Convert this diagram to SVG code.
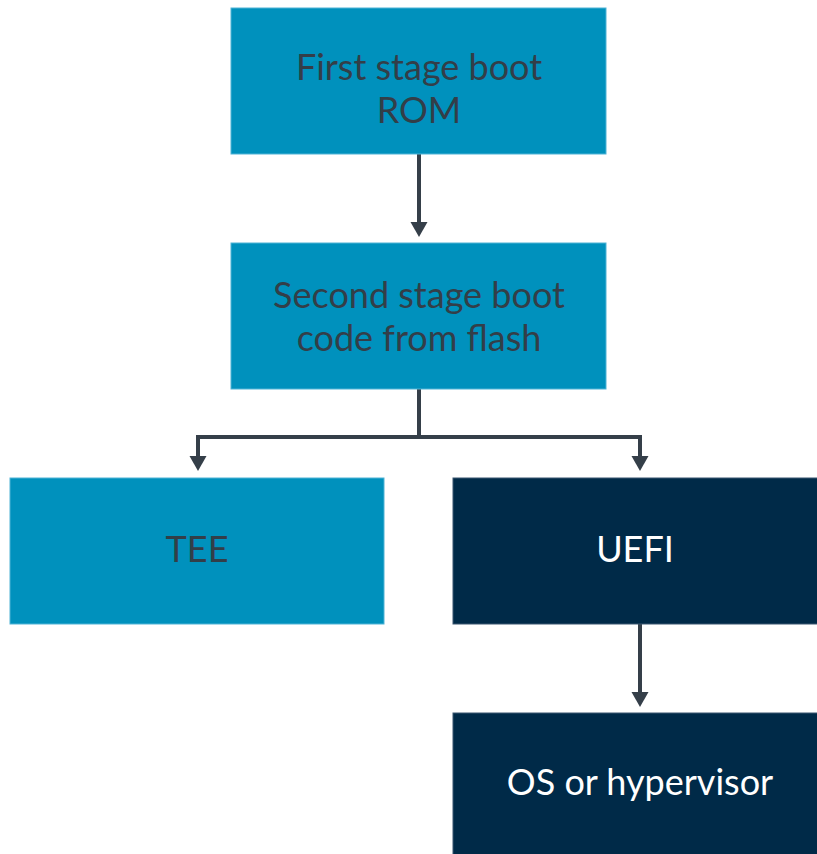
<svg xmlns="http://www.w3.org/2000/svg" width="817" height="854" viewBox="0 0 817 854">
<style>
.light{fill:#0091BD;stroke:#4FB3D6;stroke-width:1}
.dark{fill:#002A48;stroke:#3A5670;stroke-width:1}
text{font-family:Lato,"Open Sans",sans-serif;font-size:36px;text-anchor:middle}
.tl{fill:#333E48}
.td{fill:#FFFFFF}
.conn{fill:none;stroke:#353F49;stroke-width:4}
</style>
<defs>
<marker id="ah" markerWidth="18" markerHeight="18" refX="1" refY="9" orient="auto" markerUnits="userSpaceOnUse">
<path d="M0,0.5 L15,9 L0,17.5 Z" fill="#353F49"/>
</marker>
</defs>
<rect width="817" height="854" fill="#FFFFFF"/>
<g id="connectors">
<path class="conn" d="M419,154 V223" marker-end="url(#ah)"/>
<path class="conn" d="M419,389 V437"/>
<path class="conn" d="M196,437 H642"/>
<path class="conn" d="M198,435 V457" marker-end="url(#ah)"/>
<path class="conn" d="M640,435 V457" marker-end="url(#ah)"/>
<path class="conn" d="M640,624 V693" marker-end="url(#ah)"/>
</g>
<g id="rom">
<rect class="light" x="231" y="8" width="375" height="146"/>
<text class="tl" x="419" y="80">First stage boot</text>
<text class="tl" x="419" y="123">ROM</text>
</g>
<g id="flash">
<rect class="light" x="231" y="243" width="375" height="146"/>
<text class="tl" x="419" y="308">Second stage boot</text>
<text class="tl" x="419" y="351">code from flash</text>
</g>
<g id="tee">
<rect class="light" x="10" y="478" width="374" height="146"/>
<text class="tl" x="197" y="562">TEE</text>
</g>
<g id="uefi">
<rect class="dark" x="453" y="478" width="370" height="146"/>
<text class="td" x="635" y="562">UEFI</text>
</g>
<g id="os">
<rect class="dark" x="453" y="713" width="370" height="146"/>
<text class="td" x="640" y="795">OS or hypervisor</text>
</g>
</svg>
